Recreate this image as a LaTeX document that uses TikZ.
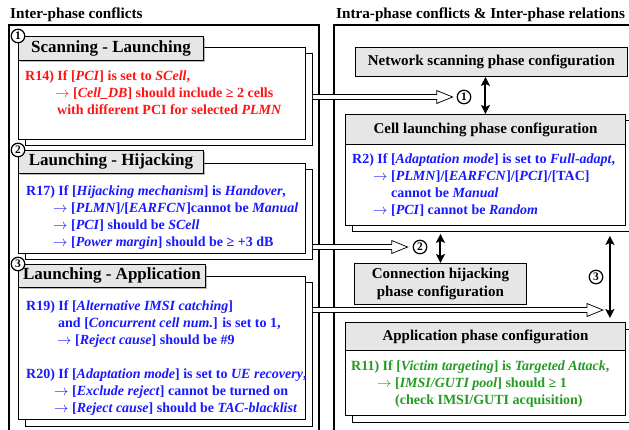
\documentclass[tikz,border=0pt]{standalone}
\usepackage{fontspec}
\setmainfont{Liberation Serif}
\usetikzlibrary{shapes,arrows.meta,positioning,calc,shadows}
\definecolor{rulered}{RGB}{255,20,20}
\definecolor{ruleblue}{RGB}{25,25,255}
\definecolor{rulegreen}{RGB}{35,155,35}
\definecolor{headgray}{RGB}{230,230,230}
\newcommand{\thenarrow}{$\rightarrow$}

\tikzset{
  frame/.style={draw, line width=1.4pt},
  paneltitle/.style={anchor=base west, inner sep=0pt, font=\fontsize{15.2}{17}\selectfont\bfseries},
  rulebox/.style={draw, fill=white, line width=0.9pt, anchor=north west, inner sep=0pt,
    copy shadow={shadow xshift=7pt, shadow yshift=-6.5pt, draw, fill=white}},
  tab/.style={draw, fill=headgray, line width=0.9pt, anchor=north west, inner sep=0pt,
    minimum height=24pt, font=\fontsize{17}{19}\selectfont\bfseries,
    drop shadow={shadow xshift=1.5pt, shadow yshift=-1.5pt, fill=black!45, opacity=.6}},
  phase/.style={draw, fill=headgray, line width=0.9pt, anchor=north west, inner sep=0pt,
    align=center, font=\fontsize{15}{18}\selectfont\bfseries},
  rule/.style={anchor=north west, inner sep=0pt, align=left,
    font=\fontsize{14}{17}\selectfont\bfseries},
  num/.style={circle, draw, fill=white, line width=1.2pt, inner sep=0pt, minimum size=13.5pt,
    font=\fontsize{11.5}{11.5}\selectfont\bfseries},
  link/.style={line width=2pt, {Stealth[length=9pt,width=9pt,inset=2pt]}-{Stealth[length=9pt,width=9pt,inset=2pt]}},
  hollow/.style={draw, fill=white, line width=0.75pt, line join=miter}
}

% hollow arrow from #1 to tip #2 (coordinate names)
\newcommand{\hollowarrow}[2]{%
  \path[hollow] ([yshift=2.4pt]#1) -- ([xshift=-16pt,yshift=2.4pt]#2)
    -- ([xshift=-16pt,yshift=6.5pt]#2) -- (#2) -- ([xshift=-16pt,yshift=-6.5pt]#2)
    -- ([xshift=-16pt,yshift=-2.4pt]#2) -- ([yshift=-2.4pt]#1);
}

\begin{document}
\begin{tikzpicture}[x=1pt,y=-1pt]
\clip (0,0) rectangle (629,430);

\draw[frame] (9,440) |- (319,25) -- (319,440);
\draw[frame] (334,440) |- (640,25);
\node[paneltitle] (lefttitle) at (10,19) {Inter-phase conflicts};
\node[paneltitle] (righttitle) at (336,19) {Intra-phase conflicts \& Inter-phase relations};

\node[rulebox, minimum width=287pt, minimum height=92pt] (box1) at (18,47) {};
\node[tab, minimum width=185pt] (tab1) at (18,36) {Scanning - Launching};
\node[num] (n1) at (tab1.north west) {1};
\node[rule, text=rulered] (r14) at (25,70) {R14) If [\textit{PCI}] is set to \textit{SCell},\\
  \hspace*{30pt}\thenarrow{} [\textit{Cell\_DB}] should include ≥ 2 cells\\
  \hspace*{32pt}with different PCI for selected \textit{PLMN}};

\node[rulebox, minimum width=287pt, minimum height=90pt] (box2) at (18,163) {};
\node[tab, minimum width=185pt, minimum height=23pt] (tab2) at (18,150) {Launching - Hijacking};
\node[num] (n2) at (tab2.north west) {2};
\node[rule, text=ruleblue] (r17) at (26,185) {R17) If [\textit{Hijacking mechanism}] is \textit{Handover},\\
  \hspace*{27pt}\thenarrow{} [\textit{PLMN}]/[\textit{EARFCN}]cannot be \textit{Manual}\\
  \hspace*{27pt}\thenarrow{} [\textit{PCI}] should be \textit{SCell}\\
  \hspace*{27pt}\thenarrow{} [\textit{Power margin}] should be ≥ +3 dB};

\node[rulebox, minimum width=287pt, minimum height=143pt] (box3) at (18,276) {};
\node[tab, minimum width=187pt, minimum height=23pt] (tab3) at (18,264) {Launching - Application};
\node[num] (n3) at (tab3.north west) {3};
\node[rule, text=ruleblue] (r19) at (26,300) {R19) If [\textit{Alternative IMSI catching}]\\
  \hspace*{32pt}and [\textit{Concurrent cell num.}] is set to 1,\\
  \hspace*{31pt}\thenarrow{} [\textit{Reject cause}] should be \#9\\[17pt]
  R20) If [\textit{Adaptation mode}] is set to \textit{UE recovery},\\
  \hspace*{28pt}\thenarrow{} [\textit{Exclude reject}] cannot be turned on\\
  \hspace*{28pt}\thenarrow{} [\textit{Reject cause}] should be \textit{TAC-blacklist}};

\node[phase, minimum width=272pt, minimum height=29pt] (scan) at (355,47) {Network scanning phase configuration};
\node[rulebox, minimum width=280pt, minimum height=111pt] (launch) at (345,114) {};
\node[phase, minimum width=280pt, minimum height=30pt] (launchhead) at (345,114) {Cell launching phase configuration};
\node[rule, text=ruleblue] (r2) at (352,153) {R2) If [\textit{Adaptation mode}] is set to \textit{Full-adapt},\\
  \hspace*{21pt}\thenarrow{} [\textit{PLMN}]/[\textit{EARFCN}]/[\textit{PCI}]/[TAC]\\
  \hspace*{39pt}cannot be \textit{Manual}\\
  \hspace*{21pt}\thenarrow{} [\textit{PCI}] cannot be \textit{Random}};

\node[phase, minimum width=172pt, minimum height=41pt] (hijack) at (354,263) {Connection hijacking\\phase configuration};

\node[rulebox, minimum width=280pt, minimum height=93pt] (app) at (345,322) {};
\node[phase, minimum width=280pt, minimum height=28pt] (apphead) at (345,322) {Application phase configuration};
\node[rule, text=rulegreen] (r11) at (351,360) {R11) If [\textit{Victim targeting}] is \textit{Targeted Attack},\\
  \hspace*{26pt}\thenarrow{} [\textit{IMSI/GUTI pool}] should ≥ 1\\
  \hspace*{44pt}(check IMSI/GUTI acquisition)};

\node[num] (c1) at (464,97) {1};
\node[num] (c2) at (420,247) {2};
\node[num] (c3) at (596,277) {3};

\draw[link] (scan.south -| launchhead.north) -- (launchhead.north);
\draw[link] ($(launch.south -| hijack.north)+(0,8)$) -- (hijack.north);
\draw[link] ($(launch.south east)+(-16,10)$) -- ($(app.north east)+(-16,-4)$);

\coordinate (p1s) at ($(box1.east |- c1)+(7,0)$);
\coordinate (p1e) at ($(c1.west)+(-4,0)$);
\coordinate (p2s) at ($(box2.east |- c2)+(7,0)$);
\coordinate (p2e) at ($(c2.west)+(-5,0)$);
\coordinate (p3s) at ($(box3.north east)+(7,34)$);
\coordinate (p3e) at ($(app.north east)+(-23,-12)$);
\hollowarrow{p1s}{p1e}
\hollowarrow{p2s}{p2e}
\hollowarrow{p3s}{p3e}
\end{tikzpicture}
\end{document}
